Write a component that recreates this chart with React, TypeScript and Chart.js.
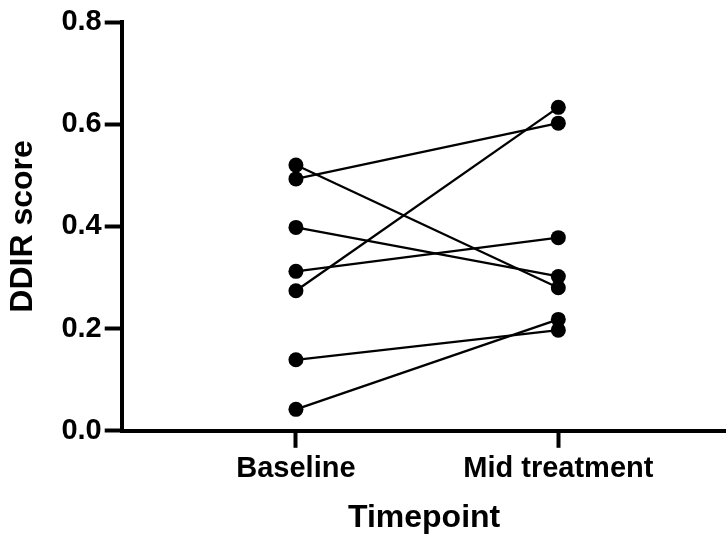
import React, { useEffect, useRef } from "react";
import { Chart, registerables } from "chart.js";

Chart.register(...registerables);

const timepoints = ["Baseline", "Mid treatment"];
const baselineScores = [0.52, 0.493, 0.398, 0.312, 0.274, 0.139, 0.042];
const midScores = [0.28, 0.602, 0.302, 0.378, 0.633, 0.197, 0.218];
const yTicks = [0.0, 0.2, 0.4, 0.6, 0.8];

export default function App() {
  const ref = useRef<HTMLCanvasElement | null>(null);
  useEffect(() => {
    if (!ref.current) return;
    const font = "'Liberation Sans', Arial, Helvetica, sans-serif";
    const datasets = baselineScores.map((b, i) => ({
      label: "Subject " + (i + 1),
      data: [
        { x: 0, y: b },
        { x: 1, y: midScores[i] },
      ],
      borderColor: "#000",
      backgroundColor: "#000",
      borderWidth: 2.3,
      pointRadius: 7.5,
      pointHoverRadius: 7.5,
      pointBorderWidth: 0,
      showLine: true,
      tension: 0,
    }));
    const chart = new Chart(ref.current, {
      type: "scatter",
      data: { datasets },
      options: {
        responsive: false,
        animation: false,
        layout: { padding: { top: 22, right: 0, left: 4, bottom: 1 } },
        plugins: { legend: { display: false }, tooltip: { enabled: false } },
        scales: {
          x: {
            type: "linear",
            min: -0.664,
            max: 1.641,
            afterBuildTicks: (axis: any) => {
              axis.ticks = timepoints.map((_, i) => ({ value: i }));
            },
            ticks: {
              color: "#000",
              font: { family: font, size: 29, weight: "bold" },
              padding: 4,
              maxRotation: 0,
              autoSkip: false,
              callback: (v: any) => timepoints[v as number] ?? "",
            },
            grid: {
              display: true,
              drawOnChartArea: false,
              drawTicks: true,
              tickLength: 17,
              tickWidth: 4,
              tickColor: "#000",
            },
            border: { display: true, width: 4, color: "#000" },
            title: {
              display: true,
              text: "Timepoint",
              color: "#000",
              font: { family: font, size: 32, weight: "bold" },
              padding: { top: 8, bottom: 0 },
            },
          },
          y: {
            min: 0,
            max: 0.8,
            afterBuildTicks: (axis: any) => {
              axis.ticks = yTicks.map((v) => ({ value: v }));
            },
            ticks: {
              color: "#000",
              font: { family: font, size: 29, weight: "bold" },
              padding: 3,
              callback: (v: any) => Number(v).toFixed(1),
            },
            grid: {
              display: true,
              drawOnChartArea: false,
              drawTicks: true,
              tickLength: 17,
              tickWidth: 4,
              tickColor: "#000",
            },
            border: { display: true, width: 4, color: "#000" },
            title: {
              display: true,
              text: "DDIR score",
              color: "#000",
              font: { family: font, size: 32, weight: "bold" },
              padding: { top: 0, bottom: 16 },
            },
          },
        },
      },
    });
    return () => chart.destroy();
  }, []);
  return (
    <div style={{ position: "absolute", left: 0, top: 0, width: 726, height: 536, overflow: "hidden", background: "#fff" }}>
      <canvas ref={ref} width={734} height={538} />
    </div>
  );
}
